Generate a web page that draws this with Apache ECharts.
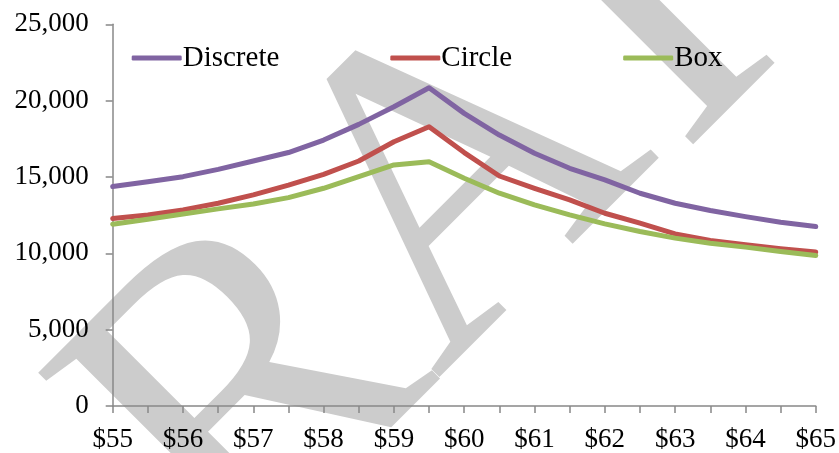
<!DOCTYPE html>
<html>
<head>
<meta charset="utf-8">
<script src="https://cdn.jsdelivr.net/npm/echarts@6/dist/echarts.min.js"></script>
<style>html,body{margin:0;padding:0;background:#fff}#c{width:839px;height:453px}</style>
</head>
<body>
<div id="c"></div>
<script>
const prices = [55,55.5,56,56.5,57,57.5,58,58.5,59,59.5,60,60.5,61,61.5,62,62.5,63,63.5,64,64.5,65];
const discrete = [14370,14690,15020,15500,16045,16600,17420,18445,19600,20840,19165,17745,16550,15570,14805,13935,13280,12800,12405,12040,11750];
const circle = [12275,12515,12845,13280,13825,14470,15175,16045,17310,18290,16600,15065,14260,13500,12625,11975,11275,10840,10555,10295,10080];
const box = [11905,12235,12580,12910,13235,13650,14260,15020,15785,16000,14915,13935,13170,12515,11930,11425,10995,10665,10405,10120,9855];
const yTicks = [0,5000,10000,15000,20000,25000];
const watermark = ['R','A','I'];

const font = 'Liberation Serif';
const chart = echarts.init(document.getElementById('c'));
const mk = (name, data, color) => ({
  name, type: 'line', data, symbol: 'none', smooth: false,
  lineStyle: { color, width: 5, cap: 'round', join: 'round' },
  itemStyle: { color }, z: 3
});
const wmPos = [[255,400],[467,186],[652,22]];
chart.setOption({
  animation: false,
  backgroundColor: '#fff',
  graphic: watermark.map((ch, i) => ({
    type: 'text', z: -10, silent: true,
    x: wmPos[i][0], y: wmPos[i][1], rotation: Math.PI / 4,
    style: { text: ch, font: '440px "Liberation Serif"', fill: '#cccccc', align: 'center', verticalAlign: 'middle' }
  })),
  grid: { left: 112.7, right: 22.3, top: 24.3, bottom: 46.5 },
  legend: {
    top: 38.5, left: 126.7, itemGap: 111, itemWidth: 50, itemHeight: 5, icon: 'roundRect',
    textStyle: { fontFamily: font, fontSize: 29, color: '#000', padding: [0,0,0,-4] },
    data: ['Discrete','Circle','Box']
  },
  xAxis: {
    type: 'category', data: prices, boundaryGap: false,
    axisLine: { lineStyle: { color: '#888', width: 1.5 } },
    axisTick: { show: true, interval: 0, length: 7, lineStyle: { color: '#888', width: 1.5 } },
    axisLabel: { interval: 1, margin: 20, fontFamily: font, fontSize: 27, color: '#000', formatter: v => '$' + v }
  },
  yAxis: {
    type: 'value', min: yTicks[0], max: yTicks[yTicks.length-1], interval: 5000,
    splitLine: { show: false },
    axisLine: { show: true, lineStyle: { color: '#888', width: 1.5 } },
    axisTick: { show: true, length: 7, lineStyle: { color: '#888', width: 1.5 } },
    axisLabel: { margin: 24, fontFamily: font, fontSize: 27, color: '#000', formatter: v => v.toLocaleString('en-US') }
  },
  series: [mk('Discrete', discrete, '#8064A2'), mk('Circle', circle, '#C0504D'), mk('Box', box, '#9BBB59')]
});
</script>
</body>
</html>
